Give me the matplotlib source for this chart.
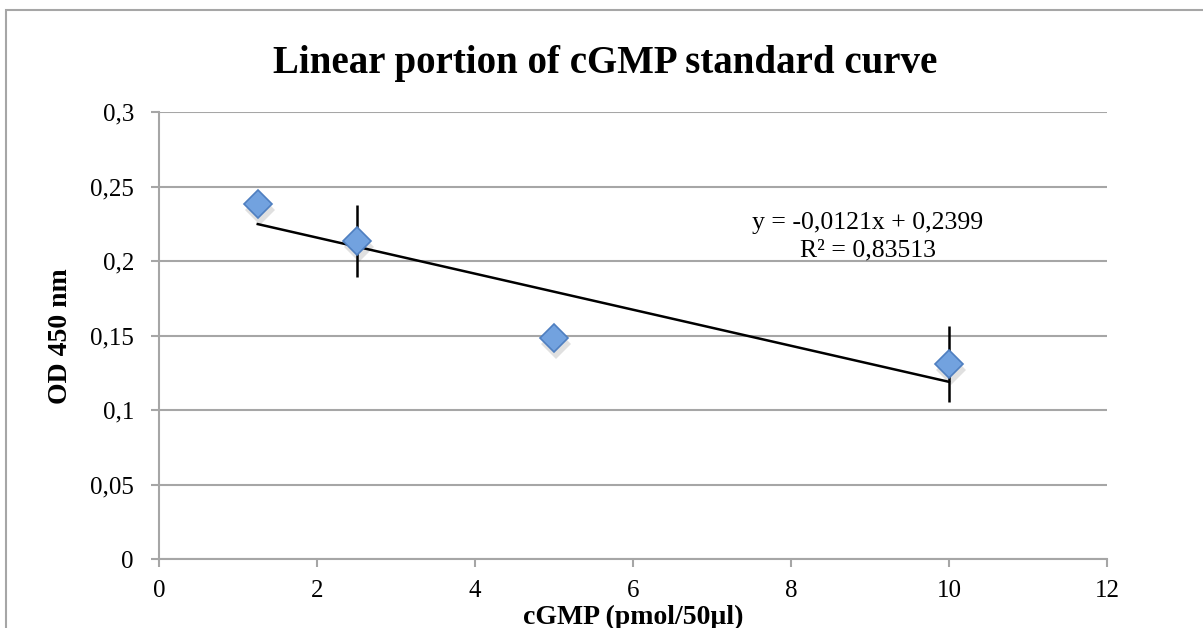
import matplotlib
matplotlib.use("Agg")
import matplotlib.pyplot as plt
from matplotlib.patches import Rectangle
import numpy as np

# Data
conc = [1.25, 2.5, 5, 10]
od450 = [0.238, 0.2135, 0.148, 0.131]
od_err = [0.0, 0.024, 0.0, 0.0255]
trend_slope = -0.0121
trend_intercept = 0.2399
r_squared = "0,83513"

title = "Linear portion of cGMP standard curve"
xlabel = "cGMP (pmol/50µl)"
ylabel = "OD 450 nm"
xticks = [0, 2, 4, 6, 8, 10, 12]
yticks = [0, 0.05, 0.1, 0.15, 0.2, 0.25, 0.3]
ytick_labels = ["0", "0,05", "0,1", "0,15", "0,2", "0,25", "0,3"]

plt.rcParams['font.family'] = ['Liberation Serif', 'DejaVu Serif']

fig = plt.figure(figsize=(12.03, 6.28), dpi=100)
W, H = 1203, 628
ax = fig.add_axes([159 / W, 1 - 559 / H, (1107 - 159) / W, (559 - 112) / H])

grid_c = "#a6a6a6"
# outer chart border
fig.patches.append(Rectangle((6 / W, -0.1), 1.2, 1 - 10 / H + 0.1, transform=fig.transFigure,
                             fill=False, edgecolor=grid_c, linewidth=1.5, zorder=0))

ax.set_xlim(0, 12)
ax.set_ylim(0, 0.3)
ax.set_xticks(xticks)
ax.set_xticklabels([str(t) for t in xticks])
ax.set_yticks(yticks)
ax.set_yticklabels(ytick_labels)
ax.yaxis.grid(True, color=grid_c, linewidth=1.5)
ax.set_axisbelow(True)
for s in ["top", "right"]:
    ax.spines[s].set_visible(False)
for s in ["left", "bottom"]:
    ax.spines[s].set_color(grid_c)
    ax.spines[s].set_linewidth(1.5)
ax.tick_params(axis="both", colors=grid_c, width=1.5, length=6, labelsize=18, labelcolor="black")
ax.tick_params(axis="x", pad=9)
ax.tick_params(axis="y", pad=12)

# trendline
xt = np.array([min(conc), max(conc)])
ax.plot(xt, trend_slope * xt + trend_intercept, color="black", linewidth=1.8, zorder=3)

# error bars
ax.errorbar(conc, od450, yerr=od_err, fmt="none", ecolor="black", elinewidth=1.8, capsize=0, zorder=3)

# shadow
ax.plot(np.array(conc) + 0.03, np.array(od450) - 0.004, linestyle="none", marker="D", markersize=15,
        color="#000000", alpha=0.12, markeredgewidth=0, zorder=3.5)
# markers
ax.plot(conc, od450, linestyle="none", marker="D", markersize=14,
        markerfacecolor="#72a2df", markeredgecolor="#4f7fc0", markeredgewidth=1.2, zorder=4)

ax.text(8.97, 0.2165, "y = -0,0121x + 0,2399\nR² = " + r_squared, ha="center", va="center",
        fontsize=18.5, linespacing=1.3, zorder=5)

fig.text(605 / W, 1 - 64 / H, title, ha="center", va="center", fontsize=28, fontweight="bold")
fig.text(633 / W, 1 - 624 / H, xlabel, ha="center", va="baseline", fontsize=20, fontweight="bold")
fig.text(61 / W, 1 - 336 / H, ylabel, ha="center", va="center", fontsize=20, fontweight="bold",
         rotation=90)

fig.savefig("out.png", dpi=100)
